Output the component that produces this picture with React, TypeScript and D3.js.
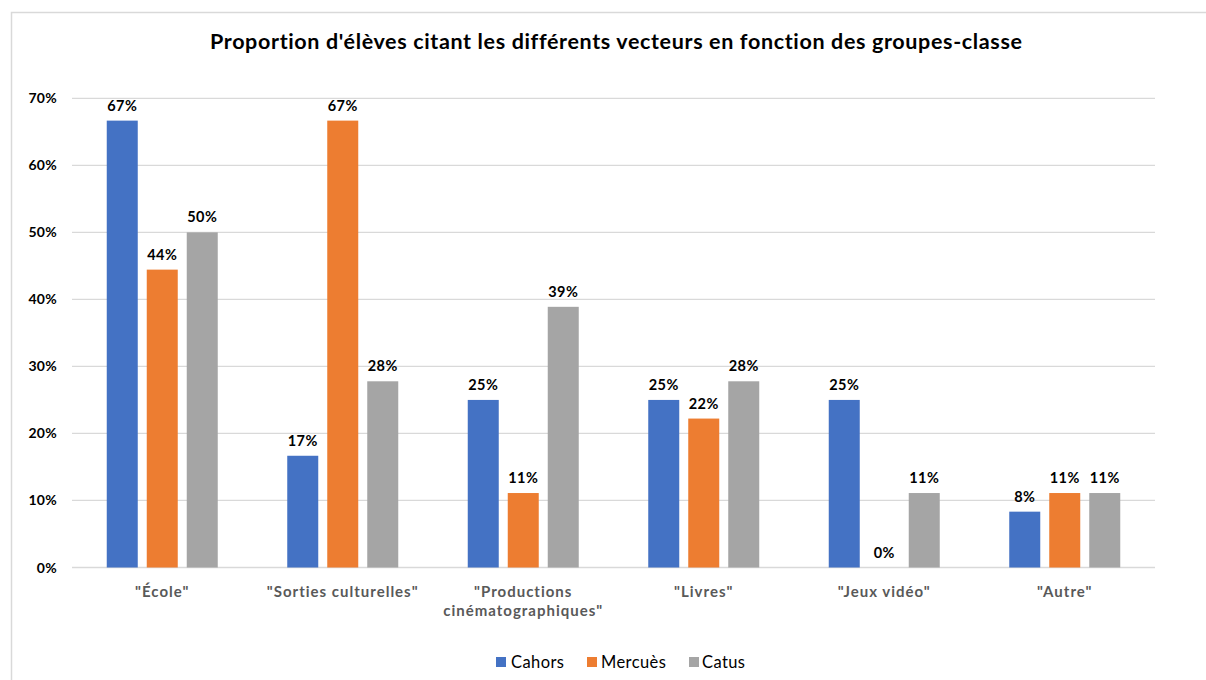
import React from "react";
import * as d3 from "d3";

const TITLE = "Proportion d'élèves citant les différents vecteurs en fonction des groupes-classe";
const categories = [
  ["\"École\""],
  ["\"Sorties culturelles\""],
  ["\"Productions", "cinématographiques\""],
  ["\"Livres\""],
  ["\"Jeux vidéo\""],
  ["\"Autre\""],
];
const seriesNames = ["Cahors", "Mercuès", "Catus"];
const cahors = [0.6667, 0.1667, 0.25, 0.25, 0.25, 0.0833];
const mercues = [0.4444, 0.6667, 0.1111, 0.2222, 0, 0.1111];
const catus = [0.5, 0.2778, 0.3889, 0.2778, 0.1111, 0.1111];
const yTicks = [0, 0.1, 0.2, 0.3, 0.4, 0.5, 0.6, 0.7];
const colors = ["#4472C4", "#ED7D31", "#A5A5A5"];

const W = 1206;
const H = 680;
const FONT = "Lato, 'Open Sans', sans-serif";
const NOLIG = {
  fontVariantLigatures: "none" as const,
  fontFeatureSettings: "'liga' 0, 'clig' 0, 'dlig' 0, 'calt' 0",
};

export default function App() {
  const series = [cahors, mercues, catus];
  const left = 72;
  const right = 1155;
  const y = d3.scaleLinear().domain([0, 0.7]).range([567.5, 98.3]);
  const x0 = d3
    .scaleBand<number>()
    .domain(categories.map((_, i) => i))
    .range([left, right])
    .padding(0);
  const groupW = 111;
  const x1 = d3
    .scaleBand<number>()
    .domain(seriesNames.map((_, i) => i))
    .range([0, groupW])
    .paddingInner(0.225)
    .paddingOuter(0);
  const groupOffset = (x0.bandwidth() - groupW) / 2;
  const fmt = d3.format(".0%");

  const legendItems = [
    { x: 496, tx: 511 },
    { x: 587, tx: 601 },
    { x: 689, tx: 702 },
  ];

  return (
    <svg
      width={W}
      height={H}
      style={{ position: "absolute", left: 0, top: 0, background: "#fff" }}
    >
      <rect x={0} y={0} width={W} height={H} fill="#fff" />
      <rect x={11.5} y={12.5} width={1220} height={700} fill="#fff" stroke="#d9d9d9" strokeWidth={1.5} />
      <text
        x={616}
        y={48.5}
        textAnchor="middle"
        fontFamily={FONT}
        fontWeight={700}
        fontSize={21.5}
        textLength={812}
        lengthAdjust="spacing"
        style={NOLIG}
        fill="#000"
      >
        {TITLE}
      </text>

      {yTicks.map((t) => (
        <g key={t}>
          <line
            x1={left}
            x2={right}
            y1={y(t)}
            y2={y(t)}
            stroke="#d9d9d9"
            strokeWidth={1.3}
          />
          <text
            x={57}
            y={y(t) + 5}
            textAnchor="end"
            fontFamily={FONT}
            fontWeight={700}
            fontSize={14}
            letterSpacing={0.3}
            fill="#000"
          >
            {fmt(t)}
          </text>
        </g>
      ))}

      {categories.map((cat, ci) => (
        <g key={ci} transform={`translate(${(x0(ci) as number) + groupOffset},0)`}>
          {series.map((vals, si) => {
            const v = vals[ci];
            const bx = x1(si) as number;
            return (
              <g key={si}>
                {v > 0 && (
                  <rect
                    x={bx}
                    y={y(v)}
                    width={x1.bandwidth()}
                    height={y(0) - y(v)}
                    fill={colors[si]}
                  />
                )}
                <text
                  x={bx + x1.bandwidth() / 2}
                  y={y(v) - 10}
                  textAnchor="middle"
                  fontFamily={FONT}
                  fontWeight={700}
                  fontSize={14.5}
                  letterSpacing={0.4}
                  fill="#000"
                >
                  {fmt(v)}
                </text>
              </g>
            );
          })}
        </g>
      ))}

      {categories.map((cat, ci) => (
        <text
          key={ci}
          x={(x0(ci) as number) + x0.bandwidth() / 2}
          y={596.5}
          textAnchor="middle"
          fontFamily={FONT}
          fontWeight={700}
          fontSize={15}
          letterSpacing={1}
          style={NOLIG}
          fill="#595959"
        >
          {cat.map((line, li) => (
            <tspan key={li} x={(x0(ci) as number) + x0.bandwidth() / 2} dy={li === 0 ? 0 : 19}>
              {line}
            </tspan>
          ))}
        </text>
      ))}

      {seriesNames.map((name, i) => (
        <g key={name}>
          <rect x={legendItems[i].x} y={657} width={10} height={10} fill={colors[i]} />
          <text
            x={legendItems[i].tx}
            y={667.7}
            fontFamily={FONT}
            fontSize={16.5}
            letterSpacing={0.4}
            fill="#000"
          >
            {name}
          </text>
        </g>
      ))}
    </svg>
  );
}
